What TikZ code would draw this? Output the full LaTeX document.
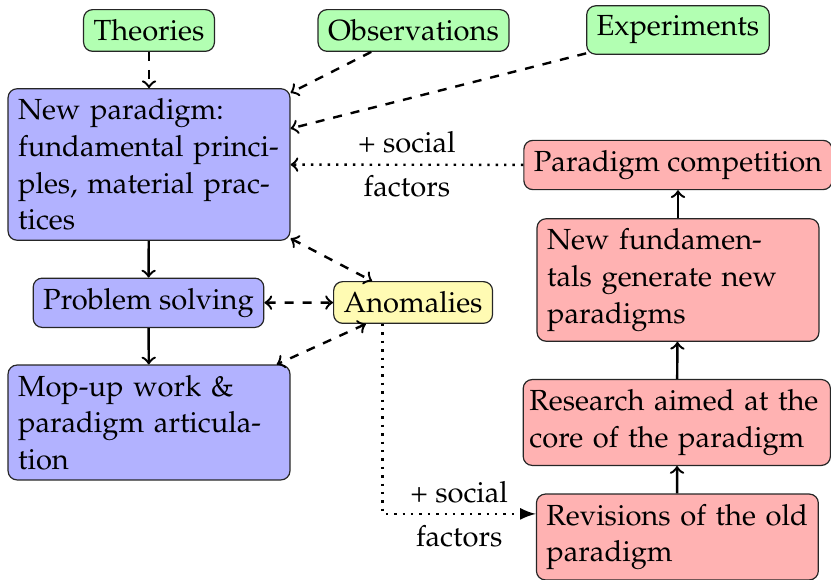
\documentclass[tikz,border=0pt]{standalone}
\usepackage[T1]{fontenc}
\usepackage{mathpazo}
\usetikzlibrary{calc,arrows}

\tikzset{
  every node/.style={font=\fontsize{9.7pt}{12.2pt}\selectfont},
  box/.style={draw=black!85, thin, rounded corners=3pt},
  source/.style={box, fill=green!30},
  normal/.style={box, fill=blue!30},
  crisis/.style={box, fill=red!30},
  anomaly/.style={box, fill=yellow!30},
  wide/.style={text width=87.3pt},
  flow/.style={->, thick},
  input/.style={->, thick, dashed},
  feedback/.style={<->, thick, dashed},
  social/.style={thick, dotted},
}

\begin{document}
\begin{tikzpicture}[x=1pt, y=1pt]
\useasboundingbox (0,0) rectangle (277,193.33);

% sources of a new paradigm
\node[source] (theo) at (49.67,183.17) {Theories};
\node[source] (obs)  at (137.83,183.17) {Observations};
\node[source] (exp)  at (226,183.33) {Experiments};

% normal science
\node[normal, wide] (np) at (49.67,138.5)
  {New paradigm:\\ fundamental principles, material practices};
\node[normal] (ps) at (49.5,92.4) {Problem solving};
\node[normal, wide] (mop) at (49.67,52.5)
  {Mop-up work \& paradigm articulation};

\node[anomaly] (anom) at (137.7,92.5) {Anomalies};

% crisis and revolution
\node[crisis] (comp) at (226,138.33) {Paradigm competition};
\node[crisis, wide] (fund) at (226,100)
  {New fundamentals generate new paradigms};
\node[crisis, text width=98.2pt, inner xsep=2.1pt] (res) at (225.6,52.5)
  {Research aimed at the core of the paradigm};
\node[crisis, wide] (rev) at (225.8,14.33)
  {Revisions of the old paradigm};

% inputs
\draw[input] (theo) -- (np);
\draw[input] (obs) -- (np);
\draw[input] (exp) -- (np);

% normal science flow
\draw[flow] (np) -- (ps);
\draw[flow] (ps) -- (mop);

% anomalies
\draw[feedback] (np) -- (anom);
\draw[feedback] (ps) -- (anom);
\draw[feedback] (anom) -- (mop);

% revolution flow
\draw[flow] (rev) -- (res);
\draw[flow] (res) -- (fund);
\draw[flow] (fund) -- (comp);

% social factors
\draw[social, ->] (comp) -- (np)
  node[midway, above] {+ social}
  node[midway, below] {factors};
\coordinate (anomout) at ($(anom.south west)+(16.5pt,0)$);
\coordinate (revin) at ($(rev.west)+(0,7.7pt)$);
\draw[social, -latex] (anomout) |- (revin)
  node[pos=0.75, above] {+ social}
  node[pos=0.75, below] {factors};
\end{tikzpicture}
\end{document}
